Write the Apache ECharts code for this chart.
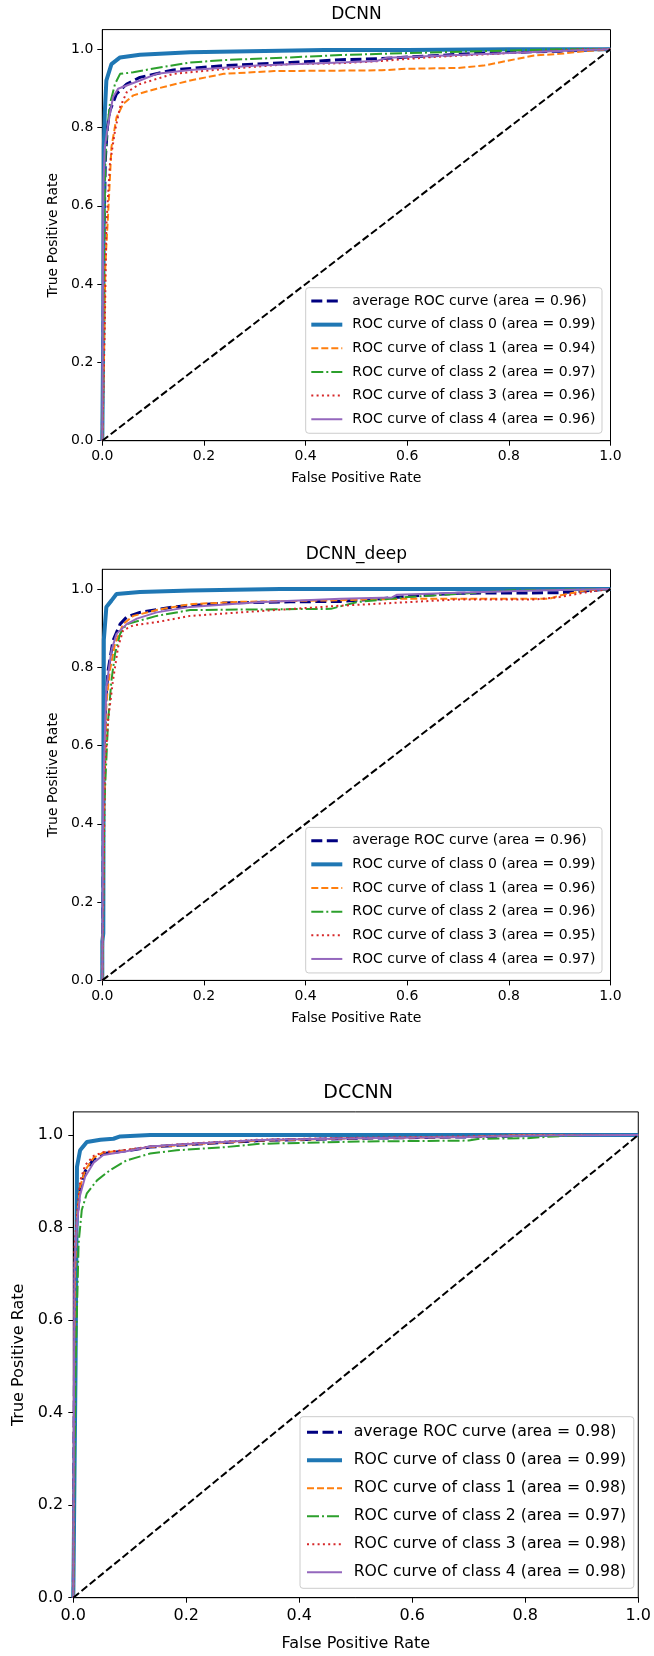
<!DOCTYPE html>
<html><head><meta charset="utf-8">
<script src="https://cdn.jsdelivr.net/npm/echarts@6/dist/echarts.min.js"></script>
<style>html,body{margin:0;padding:0;background:#fff}#c{width:654px;height:1656px}</style>
</head><body><div id="c"></div><script>
// ---------- data ----------
const xTicks = [0, 0.2, 0.4, 0.6, 0.8, 1.0];
const yTicks = [0, 0.2, 0.4, 0.6, 0.8, 1.0];
const titles = ['DCNN', 'DCNN_deep', 'DCCNN'];
const curveNames = ['average ROC curve', 'ROC curve of class 0', 'ROC curve of class 1',
  'ROC curve of class 2', 'ROC curve of class 3', 'ROC curve of class 4'];
const dcnnAreas = ['0.96', '0.99', '0.94', '0.97', '0.96', '0.96'];
const deepAreas = ['0.96', '0.99', '0.96', '0.96', '0.95', '0.97'];
const dccnnAreas = ['0.98', '0.99', '0.98', '0.97', '0.98', '0.98'];
const diagonal = [[0, 0], [1, 1]];

// DCNN
const dcnnAvg = [[0,0],[0.003,0.5],[0.006,0.72],[0.01,0.8],[0.015,0.843],[0.028,0.886],[0.048,0.911],[0.074,0.928],[0.14,0.947],[0.239,0.958],[0.37,0.966],[0.469,0.973],[0.55,0.976],[0.6,0.98],[0.75,0.99],[0.9,0.995],[1,1]];
const dcnnC0 = [[0,0],[0.002,0.3],[0.003,0.75],[0.005,0.84],[0.008,0.92],[0.018,0.962],[0.035,0.979],[0.074,0.986],[0.173,0.992],[0.29,0.995],[0.436,0.998],[0.6,0.998],[0.8,1],[1,1]];
const dcnnC1 = [[0,0],[0.003,0.2],[0.006,0.45],[0.0115,0.58],[0.018,0.75],[0.028,0.826],[0.041,0.86],[0.061,0.882],[0.107,0.899],[0.173,0.92],[0.239,0.937],[0.338,0.944],[0.55,0.946],[0.6,0.95],[0.7,0.952],[0.75,0.958],[0.8,0.971],[0.85,0.984],[0.9,0.988],[0.95,0.995],[1,1]];
const dcnnC2 = [[0,0],[0.003,0.45],[0.006,0.72],[0.01,0.8],[0.015,0.86],[0.025,0.911],[0.035,0.937],[0.061,0.941],[0.107,0.952],[0.173,0.966],[0.238,0.972],[0.37,0.979],[0.469,0.985],[0.6,0.99],[0.75,0.995],[0.9,1],[1,1]];
const dcnnC3 = [[0,0],[0.005,0.3],[0.008,0.55],[0.015,0.707],[0.025,0.792],[0.035,0.852],[0.048,0.89],[0.074,0.911],[0.14,0.937],[0.239,0.949],[0.37,0.962],[0.469,0.964],[0.55,0.97],[0.65,0.98],[0.8,0.99],[0.95,1],[1,1]];
const dcnnC4 = [[0,0],[0.002,0.65],[0.005,0.75],[0.0115,0.809],[0.021,0.877],[0.031,0.899],[0.074,0.92],[0.107,0.937],[0.173,0.947],[0.305,0.958],[0.469,0.966],[0.54,0.97],[0.56,0.978],[0.7,0.985],[0.8,0.99],[0.95,0.998],[1,1]];

// DCNN_deep
const deepAvg = [[0,0],[0.003,0.55],[0.007,0.72],[0.0115,0.792],[0.021,0.868],[0.035,0.91],[0.048,0.928],[0.074,0.94],[0.14,0.954],[0.239,0.964],[0.37,0.967],[0.469,0.968],[0.55,0.975],[0.6,0.981],[0.7,0.989],[0.9,0.99],[1,1]];
const deepC0 = [[0,0],[0,0.1],[0.002,0.12],[0.003,0.87],[0.008,0.954],[0.018,0.97],[0.028,0.987],[0.074,0.992],[0.173,0.996],[0.35,1],[1,1]];
const deepC1 = [[0,0],[0.003,0.4],[0.008,0.708],[0.015,0.792],[0.025,0.86],[0.041,0.91],[0.061,0.931],[0.107,0.946],[0.173,0.961],[0.272,0.967],[0.469,0.971],[0.6,0.975],[0.88,0.975],[0.9,0.983],[0.95,0.996],[1,1]];
const deepC2 = [[0,0],[0.004,0.45],[0.0115,0.665],[0.018,0.766],[0.025,0.834],[0.035,0.885],[0.048,0.91],[0.107,0.931],[0.173,0.946],[0.45,0.949],[0.5,0.966],[0.6,0.979],[0.7,0.987],[0.8,0.996],[1,1]];
const deepC3 = [[0,0],[0.003,0.3],[0.005,0.537],[0.0115,0.665],[0.021,0.766],[0.031,0.851],[0.041,0.894],[0.061,0.907],[0.107,0.915],[0.173,0.931],[0.272,0.94],[0.469,0.957],[0.6,0.966],[0.7,0.973],[0.85,0.973],[0.9,0.979],[0.95,0.991],[1,1]];
const deepC4 = [[0,0],[0.002,0.5],[0.008,0.749],[0.018,0.843],[0.028,0.885],[0.048,0.91],[0.068,0.924],[0.107,0.94],[0.173,0.954],[0.305,0.966],[0.469,0.975],[0.57,0.978],[0.58,0.985],[0.7,0.99],[0.85,0.996],[1,1]];

// DCCNN
const dccnnAvg = [[0,0],[0.003,0.7],[0.0065,0.82],[0.012,0.885],[0.021,0.922],[0.036,0.948],[0.053,0.96],[0.094,0.966],[0.136,0.974],[0.212,0.98],[0.329,0.988],[0.505,0.993],[0.7,0.996],[0.85,1],[1,1]];
const dccnnC0 = [[0,0],[0.004,0.5],[0.0065,0.931],[0.012,0.967],[0.024,0.985],[0.048,0.99],[0.071,0.992],[0.083,0.997],[0.136,1],[1,1]];
const dccnnC1 = [[0,0],[0.003,0.7],[0.0065,0.823],[0.012,0.888],[0.021,0.924],[0.036,0.951],[0.053,0.962],[0.094,0.967],[0.136,0.974],[0.212,0.98],[0.329,0.988],[0.505,0.993],[0.7,0.996],[0.8,1],[1,1]];
const dccnnC2 = [[0,0],[0.004,0.5],[0.0094,0.766],[0.015,0.838],[0.024,0.874],[0.042,0.902],[0.065,0.924],[0.094,0.945],[0.136,0.96],[0.183,0.967],[0.27,0.974],[0.329,0.981],[0.505,0.986],[0.7,0.988],[0.72,0.992],[0.8,0.993],[0.85,0.997],[0.9,1],[1,1]];
const dccnnC3 = [[0,0],[0.002,0.75],[0.0065,0.83],[0.012,0.9],[0.021,0.935],[0.036,0.955],[0.053,0.963],[0.094,0.968],[0.136,0.975],[0.212,0.982],[0.329,0.99],[0.505,0.994],[0.7,0.997],[0.8,1],[1,1]];
const dccnnC4 = [[0,0],[0.002,0.72],[0.0065,0.81],[0.012,0.87],[0.021,0.91],[0.036,0.94],[0.053,0.957],[0.094,0.965],[0.136,0.975],[0.212,0.981],[0.329,0.989],[0.505,0.993],[0.7,0.996],[0.8,0.999],[1,1]];

// ---------- styling / layout ----------
const FONT = 'DejaVu Sans';
const colors = ['#000080', '#1f77b4', '#ff7f0e', '#2ca02c', '#d62728', '#9467bd'];
const widths = [3, 4, 2, 2, 2, 2];
const dashes = [[11, 4.5], 'solid', [7, 3], [12, 3, 2, 3], [2, 3.3], 'solid'];

const charts = [
  { curves: [dcnnAvg, dcnnC0, dcnnC1, dcnnC2, dcnnC3, dcnnC4], areas: dcnnAreas,
    g: { left: 102.3, top: 29.6, width: 508.2, height: 411.1 }, fs: 14, lfs: 14, tfs: 17, titleTop: 6,
    leg: { left: 305.7, top: 287.7, pad: [6.3, 6.6, 7, 3.6], iw: 31, ih: 14, gap: 9.65, tg: 5 },
    xGap: 31, yGap: 36, lm: 9 },
  { curves: [deepAvg, deepC0, deepC1, deepC2, deepC3, deepC4], areas: deepAreas,
    g: { left: 102.3, top: 569.3, width: 508.2, height: 411.1 }, fs: 14, lfs: 14, tfs: 17, titleTop: 545.7,
    leg: { left: 305.7, top: 827.4, pad: [6.3, 6.6, 7, 3.6], iw: 31, ih: 14, gap: 9.65, tg: 5 },
    xGap: 31, yGap: 36, lm: 9 },
  { curves: [dccnnAvg, dccnnC0, dccnnC1, dccnnC2, dccnnC3, dccnnC4], areas: dccnnAreas,
    g: { left: 73.3, top: 1111.9, width: 569.7, height: 485.8 }, fs: 16, lfs: 15.7, tfs: 19, titleTop: 1084,
    leg: { left: 300, top: 1416.7, pad: [7.6, 7.7, 8, 5], iw: 35, ih: 16, gap: 12, tg: 6.7 },
    xGap: 38, yGap: 39, lm: 10 }
];

const option = { animation: false, grid: [], xAxis: [], yAxis: [], series: [], legend: [], title: [] };

charts.forEach((c, ci) => {
  const fs = c.fs;
  option.grid.push(Object.assign({ show: true, borderColor: '#000', borderWidth: 1, containLabel: false, backgroundColor: '#fff' }, c.g));
  option.title.push({
    text: titles[ci], left: c.g.left + c.g.width / 2, top: c.titleTop, textAlign: 'center', padding: 0,
    textStyle: { fontFamily: FONT, fontSize: c.tfs, fontWeight: 'normal', color: '#000' }
  });
  option.xAxis.push({
    type: 'value', gridIndex: ci, min: 0, max: 1, interval: 0.2,
    name: 'False Positive Rate', nameLocation: 'middle', nameGap: c.xGap,
    nameTextStyle: { fontFamily: FONT, fontSize: fs, color: '#000' },
    axisLine: { show: true, onZero: false, lineStyle: { color: '#000', width: 1 } },
    axisTick: { show: true, inside: false, length: 5, lineStyle: { color: '#000' }, customValues: xTicks },
    axisLabel: { show: true, margin: c.lm, color: '#000', fontFamily: FONT, fontSize: fs,
      customValues: xTicks, formatter: v => v.toFixed(1) },
    splitLine: { show: false }
  });
  option.yAxis.push({
    type: 'value', gridIndex: ci, min: 0, max: 1.05, interval: 0.2,
    name: 'True Positive Rate', nameLocation: 'middle', nameGap: c.yGap,
    nameTextStyle: { fontFamily: FONT, fontSize: fs, color: '#000' },
    axisLine: { show: true, onZero: false, lineStyle: { color: '#000', width: 1 } },
    axisTick: { show: true, inside: false, length: 5, lineStyle: { color: '#000' }, customValues: yTicks },
    axisLabel: { show: true, margin: c.lm, color: '#000', fontFamily: FONT, fontSize: fs,
      customValues: yTicks, formatter: v => v.toFixed(1) },
    splitLine: { show: false }
  });
  const names = curveNames.map((n, k) => n + ' (area = ' + c.areas[k] + ')');
  c.curves.forEach((d, k) => {
    option.series.push({
      type: 'line', name: names[k], xAxisIndex: ci, yAxisIndex: ci, data: d,
      symbol: 'none', silent: true, z: 2 + k, clip: true,
      lineStyle: { color: colors[k], width: widths[k], type: dashes[k] },
      itemStyle: { color: colors[k] }
    });
  });
  option.series.push({
    type: 'line', name: 'diag' + ci, xAxisIndex: ci, yAxisIndex: ci, data: diagonal,
    symbol: 'none', silent: true, z: 10,
    lineStyle: { color: '#000', width: 2, type: [7.4, 3.2] }
  });
  option.legend.push({
    data: names.map((n, k) => ({
      name: n,
      lineStyle: { color: colors[k], width: widths[k], type: dashes[k] },
      itemStyle: { opacity: 0, borderWidth: 0 }
    })),
    orient: 'vertical', left: c.leg.left, top: c.leg.top,
    padding: c.leg.pad, itemWidth: c.leg.iw, itemHeight: c.leg.ih, itemGap: c.leg.gap,
    selectedMode: false, borderColor: '#cccccc', borderWidth: 1, borderRadius: 3,
    backgroundColor: 'rgba(255,255,255,0.8)',
    itemStyle: { opacity: 0, borderWidth: 0 },
    textStyle: { fontFamily: FONT, fontSize: c.lfs, color: '#000', padding: [0, 0, 0, c.leg.tg] }
  });
});

const chart = echarts.init(document.getElementById('c'), null, { renderer: 'canvas', width: 654, height: 1656 });
chart.setOption(option);
</script></body></html>
